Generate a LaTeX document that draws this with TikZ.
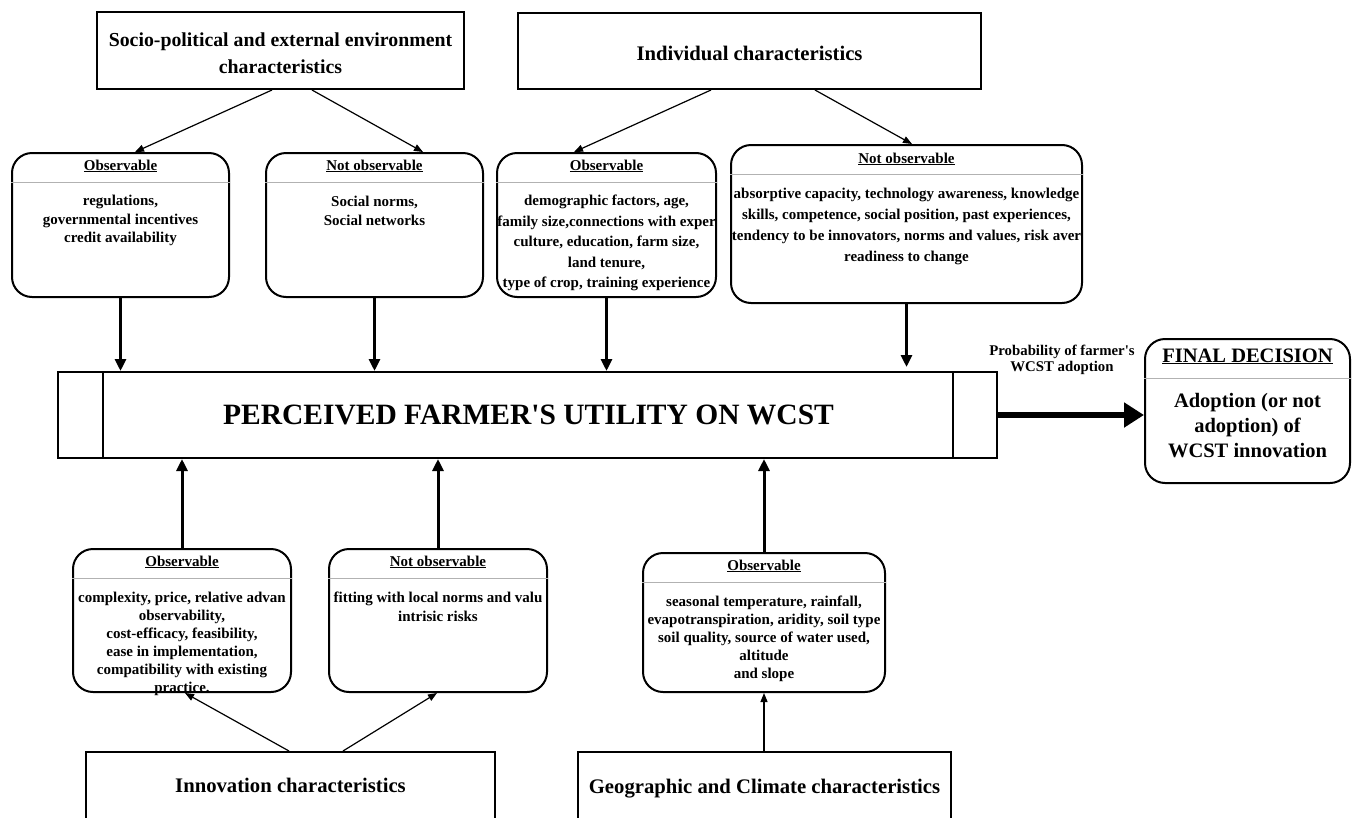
\documentclass[tikz,border=0pt]{standalone}
\usepackage{fontspec}
\setmainfont{Liberation Serif}[Ligatures=TeXOff]
\usetikzlibrary{arrows.meta,fit}
\begin{document}
\begin{tikzpicture}[x=1pt,y=-1pt,
  sqbox/.style={draw, line width=2pt, inner sep=0pt},
  rbox/.style={draw, line width=2pt, rounded corners=20pt, inner sep=0pt},
  divider/.style={draw=black!30, line width=1pt},
  thinarrow/.style={-{Triangle[length=9pt,width=7pt]}, line width=1.2pt},
  thickarrow/.style={-{Triangle[length=12pt,width=11pt]}, line width=3pt},
  bigarrow/.style={-{Triangle[length=20pt,width=24pt]}, line width=6pt},
  hd/.style={font=\bfseries\fontsize{15}{18}\selectfont, anchor=base, inner sep=0pt},
  body/.style={font=\bfseries\fontsize{15}{18.5}\selectfont, align=center, anchor=north, inner sep=0pt},
  title/.style={font=\bfseries\fontsize{20.7}{27}\selectfont, align=center, inner sep=0pt},
]
\useasboundingbox (0,0) rectangle (1355,817);
\clip (0,0) rectangle (1355,817);
\fill[white] (0,0) rectangle (1355,817);

% top category boxes
\node[sqbox, fit={(97,12) (464,89)}] (soc) {};
\node[title, font=\bfseries\fontsize{19.8}{27}\selectfont] (soct) at (280.5,53) {Socio-political and external environment\\characteristics};
\node[sqbox, fit={(518,13) (981,89)}] (ind) {};
\node[title] (indt) at (749.5,53) {Individual characteristics};

% top observable boxes
\node[rbox, fit={(12,153) (229,297)}] (o1) {};
\draw[divider] (o1.west |- 0,182) -- (o1.east |- 0,182);
\node[hd] (o1h) at (120.5,170) {\underline{Observable}};
\node[body] (o1b) at (120.5,195) {regulations,\\governmental incentives\\credit availability};

\node[rbox, fit={(266,153) (483,297)}] (n1) {};
\draw[divider] (n1.west |- 0,182) -- (n1.east |- 0,182);
\node[hd] (n1h) at (374.5,170) {\underline{Not observable}};
\node[body] (n1b) at (374.5,196) {Social norms,\\Social networks};

\node[rbox, fit={(497,153) (716,297)}] (o2) {};
\draw[divider] (o2.west |- 0,182) -- (o2.east |- 0,182);
\node[hd] (o2h) at (606.5,170) {\underline{Observable}};
\begin{scope}
\clip (498,183) rectangle (715,296);
\node[body, font=\bfseries\fontsize{15}{20.5}\selectfont] (o2b) at (606.5,195) {demographic factors, age,\\family size,connections with exper\\culture, education, farm size,\\land tenure,\\type of crop, training experience};
\end{scope}

\node[rbox, fit={(731,145) (1082,303)}] (n2) {};
\draw[divider] (n2.west |- 0,174) -- (n2.east |- 0,174);
\node[hd] (n2h) at (906.5,163) {\underline{Not observable}};
\begin{scope}
\clip (732,175) rectangle (1081,302);
\node[body, font=\bfseries\fontsize{15}{21}\selectfont] (n2b) at (906.5,188) {absorptive capacity, technology awareness, knowledge\\skills, competence, social position, past experiences,\\tendency to be innovators, norms and values, risk aver\\readiness to change};
\end{scope}

% main box
\node[sqbox, fit={(58,372) (997,458)}] (main) {};
\draw[line width=2pt] (103,372) -- (103,458);
\draw[line width=2pt] (953,372) -- (953,458);
\node[font=\bfseries\fontsize{29.5}{33}\selectfont, inner sep=0pt] (maint) at (528.5,415) {PERCEIVED FARMER'S UTILITY ON WCST};

% final decision
\node[rbox, fit={(1145,339) (1350,483)}] (fd) {};
\draw[divider] (fd.west |- 0,378) -- (fd.east |- 0,378);
\node[hd, font=\bfseries\fontsize{20.5}{24}\selectfont] (fdh) at (1247.5,362) {\underline{FINAL DECISION}};
\node[body, font=\bfseries\fontsize{20.5}{25}\selectfont] (fdb) at (1247.5,393) {Adoption (or not\\adoption) of\\WCST innovation};
\node[font=\bfseries\fontsize{14.8}{16.5}\selectfont, align=center, inner sep=0pt] (prob) at (1062,360) {Probability of farmer's\\WCST adoption};

% bottom observable boxes
\node[rbox, fit={(73,549) (291,692)}] (o3) {};
\draw[divider] (o3.west |- 0,578) -- (o3.east |- 0,578);
\node[hd] (o3h) at (182,566) {\underline{Observable}};
\begin{scope}
\clip (74,579) rectangle (290,700);
\node[body, font=\bfseries\fontsize{15}{18}\selectfont] (o3b) at (182,592) {complexity, price, relative advan\\observability,\\cost-efficacy, feasibility,\\ease in implementation,\\compatibility with existing\\practice.};
\end{scope}

\node[rbox, fit={(329,549) (547,692)}] (n3) {};
\draw[divider] (n3.west |- 0,578) -- (n3.east |- 0,578);
\node[hd] (n3h) at (438,566) {\underline{Not observable}};
\begin{scope}
\clip (330,579) rectangle (546,691);
\node[body] (n3b) at (438,592) {fitting with local norms and valu\\intrisic risks};
\end{scope}

\node[rbox, fit={(643,553) (885,692)}] (o4) {};
\draw[divider] (o4.west |- 0,582) -- (o4.east |- 0,582);
\node[hd] (o4h) at (764,570) {\underline{Observable}};
\begin{scope}
\clip (644,583) rectangle (884,691);
\node[body, font=\bfseries\fontsize{15}{18}\selectfont] (o4b) at (764,596) {seasonal temperature, rainfall,\\evapotranspiration, aridity, soil type\\soil quality, source of water used,\\altitude\\and slope};
\end{scope}

% bottom category boxes
\node[sqbox, fit={(86,752) (495,840)}] (inn) {};
\node[title] (innt) at (290.5,785) {Innovation characteristics};
\node[sqbox, fit={(578,752) (951,840)}] (geo) {};
\node[title] (geot) at (764.5,789) {Geographic and Climate characteristics};

% thin arrows
\draw[thinarrow] ([xshift=-8.5pt]soc.south) -- ([xshift=14.5pt]o1.north);
\draw[thinarrow] ([xshift=31.5pt]soc.south) -- ([xshift=48.5pt]n1.north);
\draw[thinarrow] ([xshift=-38.5pt]ind.south) -- ([xshift=-32.5pt]o2.north);
\draw[thinarrow] ([xshift=65.5pt]ind.south) -- ([xshift=5.5pt]n2.north);
\draw[thinarrow] ([xshift=-1.5pt]inn.north) -- ([xshift=3pt]o3.south);
\draw[thinarrow] ([xshift=52.5pt]inn.north) -- ([xshift=-1pt]n3.south);
\draw[thinarrow] (geo.north -| o4.south) -- (o4.south);

% thick arrows
\draw[thickarrow] (o1.south) -- (o1.south |- main.north);
\draw[thickarrow] (n1.south) -- (n1.south |- main.north);
\draw[thickarrow] (o2.south) -- (o2.south |- main.north);
\draw[thickarrow] (n2.south) -- ([yshift=4pt]n2.south |- main.north);
\draw[thickarrow] (o3.north) -- (o3.north |- main.south);
\draw[thickarrow] (n3.north) -- (n3.north |- main.south);
\draw[thickarrow] (o4.north) -- (o4.north |- main.south);
\draw[bigarrow] (main.east) -- (main.east -| fd.west);
\end{tikzpicture}
\end{document}
